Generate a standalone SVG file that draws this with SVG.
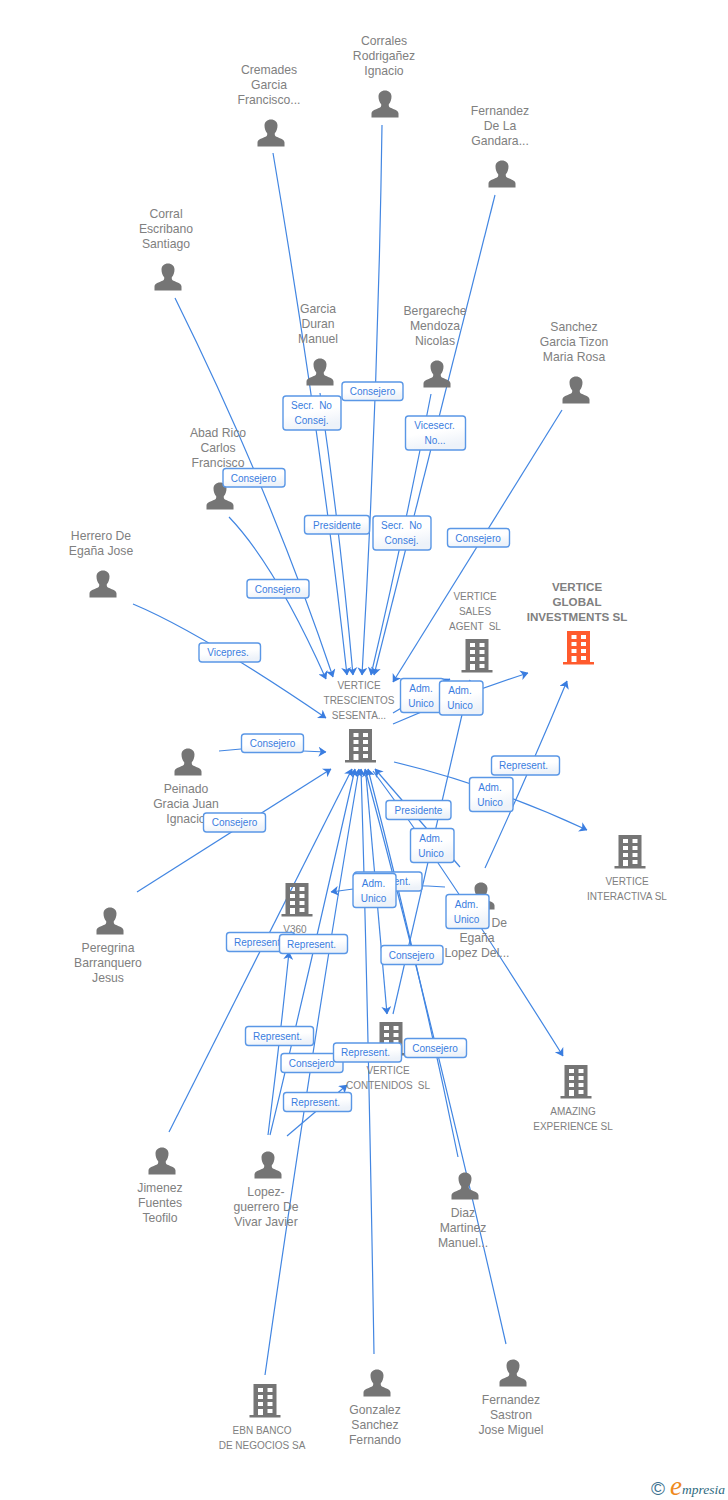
<svg xmlns="http://www.w3.org/2000/svg" width="728" height="1500" viewBox="0 0 728 1500">
<style>
text{font-family:"Liberation Sans",Arial,sans-serif}
.n{font-size:12.2px;fill:#808080;text-anchor:middle}
.c{font-size:10px;fill:#808080;text-anchor:middle}
.w{word-spacing:2.5px}
.g{font-size:11.6px;font-weight:bold;fill:#808080;text-anchor:middle}
.l{font-size:10px;fill:#3a7de0;text-anchor:middle;word-spacing:2.5px}
.b{fill:url(#bg);stroke:#5a97e6;stroke-width:1.4}
#connectors path{fill:none;stroke:#4286e2;stroke-width:1.2;marker-end:url(#a)}
</style>
<defs>
<linearGradient id="bg" x1="0" y1="0" x2="0.3" y2="1"><stop offset="0" stop-color="#fff"/><stop offset="0.55" stop-color="#fff"/><stop offset="1" stop-color="#edf2f9"/></linearGradient>
<marker id="a" markerUnits="userSpaceOnUse" viewBox="0 0 10 10" refX="9.5" refY="5" markerWidth="10" markerHeight="10" orient="auto"><path d="M2,0 L10,5 L2,10 L4.2,5 Z" fill="#3a7de0"/></marker>
<g id="person"><path fill="#757575" d="M-13.5,13.5 V9.5 C-13.5,6.5 -9,5.5 -5.5,3.8 C-4,3.2 -3.6,2 -3.8,0.2 C-5.500,-1.5 -6.500,-4.5 -6.500,-7.5 C-6.500,-11 -3.700,-13.500 0,-13.500 C3.700,-13.500 6.500,-11 6.500,-7.5 C6.500,-4.5 5.500,-1.5 3.800,0.2 C3.600,2 4,3.2 5.500,3.800 C9,5.5 13.5,6.5 13.5,9.5 V13.5 Z"/></g>
<g id="bld">
<path fill="currentColor" fill-rule="evenodd" d="M-11.5,-17 H11.5 V14 H15.5 V16.5 H-15.5 V14 H-11.5 Z M-7,-13 V-9 H-2 V-13 Z M2.5,-13 V-9 H7.5 V-13 Z M-7,-6 V-2 H-2 V-6 Z M2.5,-6 V-2 H7.5 V-6 Z M-7,1 V5 H-2 V1 Z M2.5,1 V5 H7.5 V1 Z M-7,8 V14 H-2 V8 Z M2.5,8 V12 H7.5 V8 Z"/>
</g>
</defs>
<rect width="728" height="1500" fill="#fff"/>
<g id="connectors">
<path d="M273,153 Q320,430 347,675"/>
<path d="M320,393 Q340,530 353,675"/>
<path d="M382,125 Q378,400 362,675"/>
<path d="M495,195 L374,675"/>
<path d="M431,394 Q405,530 371,675"/>
<path d="M175,298 Q270,490 333,677"/>
<path d="M229,517 Q275,565 326,679"/>
<path d="M562,410 L393,682"/>
<path d="M133,604 Q200,632 326,718"/>
<path d="M219,751 L241,749 M303,751 L326,752"/>
<path d="M137,892 L331,769"/>
<path d="M169,1132 L352,769"/>
<path d="M270,1135 Q298,1020 355,769"/>
<path d="M265,1375 Q310,1060 359,769"/>
<path d="M374,1354 Q368,1000 361,769"/>
<path d="M506,1344 Q425,990 365,769"/>
<path d="M458,1157 Q420,970 368,769"/>
<path d="M460,867 Q415,815 375,769"/>
<path d="M268,1135 Q280,1040 289,952"/>
<path d="M287,1136 L347,1085"/>
<path d="M445,887 Q390,883 331,892"/>
<path d="M366,775 L387,1014"/>
<path d="M373,771 Q440,860 563,1056"/>
<path d="M393,1014 L470,680"/>
<path d="M393,713 L450,679"/>
<path d="M393,724 Q460,695 528,673"/>
<path d="M485,868 Q530,770 567,681"/>
<path d="M394,762 Q490,785 587,830"/>
</g>
<g id="n-cremades"><use href="#person" x="271" y="133"/><text class="n" x="269" y="74">Cremades</text><text class="n" x="269" y="89">Garcia</text><text class="n" x="269" y="104">Francisco...</text></g>
<g id="n-corrales"><use href="#person" x="385" y="104"/><text class="n" x="384" y="45">Corrales</text><text class="n" x="384" y="60">Rodrigañez</text><text class="n" x="384" y="75">Ignacio</text></g>
<g id="n-fernandez-gandara"><use href="#person" x="502" y="174"/><text class="n" x="500" y="115">Fernandez</text><text class="n" x="500" y="130">De La</text><text class="n" x="500" y="145">Gandara...</text></g>
<g id="n-corral"><use href="#person" x="168" y="277"/><text class="n" x="166" y="218">Corral</text><text class="n" x="166" y="233">Escribano</text><text class="n" x="166" y="248">Santiago</text></g>
<g id="n-garcia"><use href="#person" x="320" y="372"/><text class="n" x="318" y="313">Garcia</text><text class="n" x="318" y="328">Duran</text><text class="n" x="318" y="343">Manuel</text></g>
<g id="n-bergareche"><use href="#person" x="437" y="374"/><text class="n" x="435" y="315">Bergareche</text><text class="n" x="435" y="330">Mendoza</text><text class="n" x="435" y="345">Nicolas</text></g>
<g id="n-sanchez"><use href="#person" x="576" y="390"/><text class="n" x="574" y="331">Sanchez</text><text class="n" x="574" y="346">Garcia Tizon</text><text class="n" x="574" y="361">Maria Rosa</text></g>
<g id="n-abad"><use href="#person" x="220" y="496"/><text class="n" x="218" y="437">Abad Rico</text><text class="n" x="218" y="452">Carlos</text><text class="n" x="218" y="467">Francisco</text></g>
<g id="n-herrero"><use href="#person" x="103" y="584"/><text class="n" x="101" y="540">Herrero De</text><text class="n" x="101" y="555">Egaña Jose</text></g>
<g id="n-sales"><use href="#bld" x="477" y="656" color="#757575"/><text class="c" x="475" y="600">VERTICE</text><text class="c" x="475" y="615">SALES</text><text class="c w" x="475" y="630">AGENT SL</text></g>
<g id="n-global"><use href="#bld" x="578.500" y="648" color="#ff5a2d"/><text class="g" x="577" y="591">VERTICE</text><text class="g" x="577" y="606">GLOBAL</text><text class="g" x="577" y="621">INVESTMENTS SL</text></g>
<g id="n-trescientos"><use href="#bld" x="360.500" y="746" color="#757575"/><text class="c" x="359" y="689">VERTICE</text><text class="c" x="359" y="704">TRESCIENTOS</text><text class="c" x="359" y="719">SESENTA...</text></g>
<g id="n-peinado"><use href="#person" x="188" y="762"/><text class="n" x="186" y="793">Peinado</text><text class="n" x="186" y="808">Gracia Juan</text><text class="n" x="186" y="823">Ignacio</text></g>
<g id="n-peregrina"><use href="#person" x="110" y="921"/><text class="n" x="108" y="952">Peregrina</text><text class="n" x="108" y="967">Barranquero</text><text class="n" x="108" y="982">Jesus</text></g>
<g id="n-v360"><use href="#bld" x="297" y="900" color="#757575"/><text class="c" x="295" y="933">V360</text></g>
<g id="n-interactiva"><use href="#bld" x="630" y="852" color="#757575"/><text class="c" x="627" y="885">VERTICE</text><text class="c" x="627" y="900">INTERACTIVA SL</text></g>
<g id="n-lopez-del"><use href="#person" x="481" y="896"/><text class="n" x="477" y="927">Herrero De</text><text class="n" x="477" y="942">Egaña</text><text class="n" x="477" y="957">Lopez Del...</text></g>
<g id="n-amazing"><use href="#bld" x="576" y="1082" color="#757575"/><text class="c" x="573" y="1115">AMAZING</text><text class="c" x="573" y="1130">EXPERIENCE SL</text></g>
<g id="n-contenidos"><use href="#bld" x="391" y="1039" color="#757575"/><text class="c" x="388" y="1074">VERTICE</text><text class="c w" x="388" y="1089">CONTENIDOS SL</text></g>
<g id="n-jimenez"><use href="#person" x="162" y="1161"/><text class="n" x="160" y="1192">Jimenez</text><text class="n" x="160" y="1207">Fuentes</text><text class="n" x="160" y="1222">Teofilo</text></g>
<g id="n-lopez-guerrero"><use href="#person" x="268" y="1165"/><text class="n" x="266" y="1196">Lopez-</text><text class="n" x="266" y="1211">guerrero De</text><text class="n" x="266" y="1226">Vivar Javier</text></g>
<g id="n-diaz"><use href="#person" x="465" y="1186"/><text class="n" x="463" y="1217">Diaz</text><text class="n" x="463" y="1232">Martinez</text><text class="n" x="463" y="1247">Manuel...</text></g>
<g id="n-ebn"><use href="#bld" x="265" y="1401" color="#757575"/><text class="c" x="262" y="1434">EBN BANCO</text><text class="c" x="262" y="1449">DE NEGOCIOS SA</text></g>
<g id="n-gonzalez"><use href="#person" x="377" y="1383"/><text class="n" x="375" y="1414">Gonzalez</text><text class="n" x="375" y="1429">Sanchez</text><text class="n" x="375" y="1444">Fernando</text></g>
<g id="n-fernandez-sastron"><use href="#person" x="513" y="1373"/><text class="n" x="511" y="1404">Fernandez</text><text class="n" x="511" y="1419">Sastron</text><text class="n" x="511" y="1434">Jose Miguel</text></g>
<g id="labels">
<g><rect class="b" x="342" y="382" width="61" height="18.500" rx="3"/><text class="l" x="372.500" y="394.500">Consejero</text></g>
<g><rect class="b" x="283" y="396" width="58" height="34" rx="3"/><text class="l" x="311.500" y="409">Secr. No</text><text class="l" x="311.500" y="424">Consej.</text></g>
<g><rect class="b" x="405.500" y="416" width="60" height="34" rx="3"/><text class="l" x="434.500" y="429">Vicesecr.</text><text class="l" x="435" y="444">No...</text></g>
<g><rect class="b" x="304.500" y="515.500" width="65" height="18.500" rx="3"/><text class="l" x="337" y="528.500">Presidente</text></g>
<g><rect class="b" x="373" y="516" width="58" height="34" rx="3"/><text class="l" x="401.500" y="529">Secr. No</text><text class="l" x="401.500" y="544">Consej.</text></g>
<g><rect class="b" x="447.500" y="528.500" width="62" height="18.500" rx="3"/><text class="l" x="478" y="541.500">Consejero</text></g>
<g><rect class="b" x="223" y="468.500" width="62" height="18.500" rx="3"/><text class="l" x="253.500" y="481.500">Consejero</text></g>
<g><rect class="b" x="247" y="579.500" width="62" height="18.500" rx="3"/><text class="l" x="277.500" y="592.500">Consejero</text></g>
<g><rect class="b" x="199" y="643" width="61.500" height="19" rx="3"/><text class="l" x="228" y="656">Vicepres.</text></g>
<g><rect class="b" x="400.500" y="678.500" width="43.500" height="34" rx="3"/><text class="l" x="421" y="691.500">Adm.</text><text class="l" x="421" y="706.500">Unico</text></g>
<g><rect class="b" x="439.500" y="681" width="43.500" height="34" rx="3"/><text class="l" x="460" y="694">Adm.</text><text class="l" x="460" y="709">Unico</text></g>
<g><rect class="b" x="241.500" y="734" width="62" height="18.500" rx="3"/><text class="l" x="272.500" y="747">Consejero</text></g>
<g><rect class="b" x="203.500" y="813" width="62" height="19" rx="3"/><text class="l" x="234.500" y="826">Consejero</text></g>
<g><rect class="b" x="491.500" y="756" width="68" height="19" rx="3"/><text class="l" x="523.500" y="769">Represent.</text></g>
<g><rect class="b" x="469.500" y="777.500" width="43.500" height="34" rx="3"/><text class="l" x="490" y="790.500">Adm.</text><text class="l" x="490" y="805.500">Unico</text></g>
<g><rect class="b" x="386" y="800.500" width="65" height="19" rx="3"/><text class="l" x="418.500" y="813.500">Presidente</text></g>
<g><rect class="b" x="410.500" y="828.500" width="43.500" height="34" rx="3"/><text class="l" x="431" y="842">Adm.</text><text class="l" x="431" y="857">Unico</text></g>
<g><rect class="b" x="354" y="872" width="68" height="19" rx="3"/><text class="l" x="386" y="885">Represent.</text></g>
<g><rect class="b" x="353" y="873.500" width="43" height="34" rx="3"/><text class="l" x="373.500" y="887">Adm.</text><text class="l" x="373.500" y="902">Unico</text></g>
<g><rect class="b" x="446" y="894.500" width="43" height="34" rx="3"/><text class="l" x="466.500" y="908">Adm.</text><text class="l" x="466.500" y="923">Unico</text></g>
<g><rect class="b" x="226.500" y="932.500" width="68" height="19" rx="3"/><text class="l" x="258.500" y="945.500">Represent.</text></g>
<g><rect class="b" x="279.500" y="934.500" width="68" height="19" rx="3"/><text class="l" x="311.500" y="947.500">Represent.</text></g>
<g><rect class="b" x="381" y="945.500" width="62" height="19" rx="3"/><text class="l" x="411.500" y="958.500">Consejero</text></g>
<g><rect class="b" x="245.500" y="1026.500" width="68" height="19" rx="3"/><text class="l" x="277.500" y="1040">Represent.</text></g>
<g><rect class="b" x="281" y="1053.500" width="62" height="19" rx="3"/><text class="l" x="311.500" y="1067">Consejero</text></g>
<g><rect class="b" x="333.500" y="1043" width="68" height="19" rx="3"/><text class="l" x="365.500" y="1056">Represent.</text></g>
<g><rect class="b" x="404.500" y="1038.500" width="62" height="19" rx="3"/><text class="l" x="435" y="1051.500">Consejero</text></g>
<g><rect class="b" x="283.500" y="1092.500" width="68" height="19" rx="3"/><text class="l" x="315.500" y="1106">Represent.</text></g>
</g>
<g id="logo">
<text x="658" y="1495" font-size="19" fill="#3b7190" text-anchor="middle">©</text>
<text x="670" y="1495" font-size="27" fill="#ef8a1d" font-style="italic" style="font-family:'Liberation Serif',serif">e</text>
<text x="682" y="1494" font-size="13.500" fill="#2f6a80" font-style="italic" style="font-family:'Liberation Serif',serif">mpresia</text>
</g>
</svg>
